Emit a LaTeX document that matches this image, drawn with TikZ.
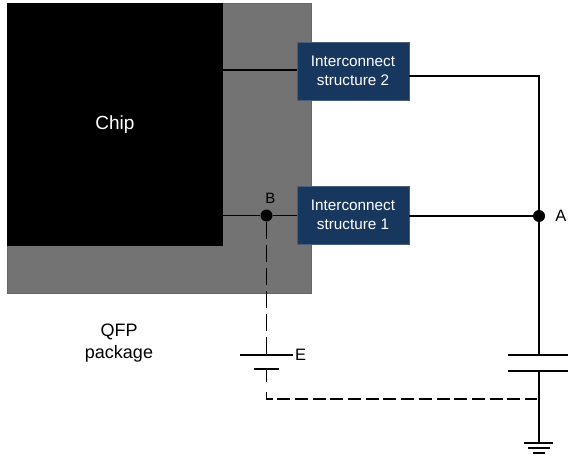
\documentclass[tikz,border=0pt]{standalone}
\usepackage{fontspec}
\setmainfont{Liberation Sans}
\usepackage{xcolor}
\usepackage{tikz}
\usetikzlibrary{arrows.meta, positioning, calc}
\definecolor{pkggray}{HTML}{737373}
\definecolor{boxblue}{HTML}{17375E}

\begin{document}
\begin{tikzpicture}[
    x=1pt, y=-1pt,
    block/.style={rectangle, minimum width=112pt, minimum height=58pt, inner sep=0pt, align=center, draw=boxblue!80!white, line width=0.5pt, fill=boxblue, text=white, font=\fontsize{15.3}{19}\selectfont},
    tag/.style={inner sep=0pt, font=\fontsize{16.5}{21}\selectfont},
    junction/.style={circle, fill=black, inner sep=0pt, minimum size=12pt},
    wire/.style={draw=black, line width=1.7pt},
    probe/.style={draw=black, line width=1.8pt, dash pattern=on 13pt off 4.7pt},
    probev/.style={draw=black, line width=1.8pt, dash pattern=on 17pt off 6pt}
]
    \useasboundingbox (0,0) rectangle (568,458);

    \node[rectangle, minimum width=304pt, minimum height=290pt, inner sep=0pt, fill=pkggray, draw=black!60, line width=0.5pt] (package) at (159,148) {};
    \node[rectangle, minimum width=216pt, minimum height=243pt, inner sep=0pt, fill=black, text=white, font=\fontsize{19}{22}\selectfont] (chip) at (115,124.5) {\raisebox{-1.5pt}{Chip}};
    \node[block] (box2) at (353,71) {Interconnect\\structure 2};
    \node[block] (box1) at (353,215) {Interconnect\\structure 1};
    \node[junction] (nodeB) at (266.5,215.5) {};
    \node[junction] (nodeA) at (539,216) {};
    \node[tag, above=6pt of nodeB, xshift=4pt, font=\fontsize{15}{21}\selectfont] (labelB) {B};
    \node[tag, right=10pt of nodeA] (labelA) {A};
    \node[tag, align=center, font=\fontsize{18}{22}\selectfont] (qfp) at (119,343.5) {QFP\\package};

    % Coordinates
    \coordinate (wire2) at (223,70);
    \coordinate (corner) at (539,76);
    \coordinate (capTop) at (539,355);
    \coordinate (capBot) at (539,371);
    \coordinate (capTopL) at (508,355);
    \coordinate (capTopR) at (568,355);
    \coordinate (capBotL) at (508,371);
    \coordinate (capBotR) at (568,371);
    \coordinate (gnd) at (539,443);
    \coordinate (battTop) at (266.5,355);
    \coordinate (battBot) at (266.5,369);
    \coordinate (battTopL) at (240,355);
    \coordinate (battTopR) at (293,355);
    \coordinate (battBotL) at (254,369);
    \coordinate (battBotR) at (279,369);
    \coordinate (battEnd) at (266.5,382);
    \coordinate (probeStart) at (266.5,392);
    \coordinate (probeEnd) at (537,399);
    \node[tag, right=2pt of battTopR] (labelE) {E};

    % Connectors
    \draw[wire] (wire2) -- (box2.west |- wire2);
    \draw[wire] (box2.east |- corner) -- (corner) -- (nodeA);
    \draw[wire] (chip.east |- nodeB) -- (nodeB) -- (box1.west |- nodeB);
    \draw[wire] (box1.east |- nodeA) -- (nodeA);
    \draw[wire] (nodeA) -- (capTop);
    \draw[wire] (capTopL) -- (capTopR);
    \draw[wire] (capBotL) -- (capBotR);
    \draw[wire] (capBot) -- (gnd);
    \draw[wire] ($(gnd)+(-15,0)$) -- ($(gnd)+(14,0)$);
    \draw[wire] ($(gnd)+(-11,5)$) -- ($(gnd)+(11,5)$);
    \draw[wire] ($(gnd)+(-6,10)$) -- ($(gnd)+(6,10)$);
    \draw[wire] (battTopL) -- (battTopR);
    \draw[wire] (battBotL) -- (battBotR);
    \draw[wire] (battBot) -- (battEnd);
    \draw[probev] (nodeB) -- (battTop);
    \draw[probe] (probeStart) |- (probeEnd);
\end{tikzpicture}
\end{document}
